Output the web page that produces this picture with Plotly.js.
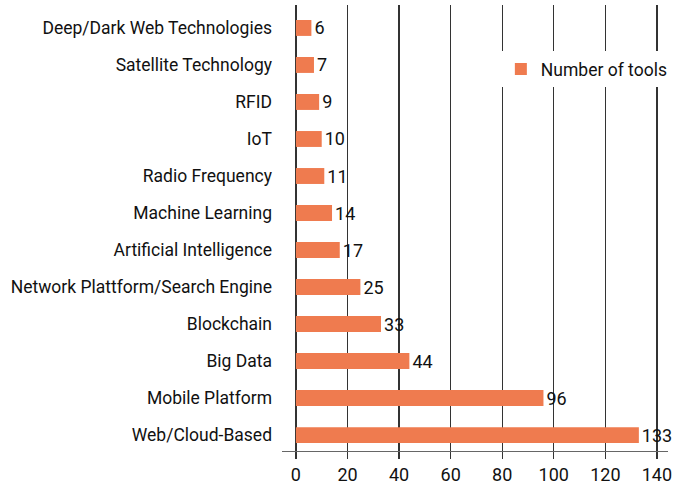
<!DOCTYPE html>
<html><head><meta charset="utf-8">
<script src="https://cdn.plot.ly/plotly-3.0.1.min.js"></script>
<style>body{margin:0;background:#fff}#c{width:686px;height:484px}</style>
</head><body><div id="c"></div>
<script>
const categories = ["Web/Cloud-Based","Mobile Platform","Big Data","Blockchain","Network Plattform/Search Engine","Artificial Intelligence","Machine Learning","Radio Frequency","IoT","RFID","Satellite Technology","Deep/Dark Web Technologies"];
const toolCounts = [133,96,44,33,25,17,14,11,10,9,7,6];
const seriesName = "Number of tools";
const xTicks = [0,20,40,60,80,100,120,140];

const FONT = "Roboto, 'DejaVu Sans Condensed', sans-serif";
const trace = {
  type: "bar", orientation: "h",
  y: categories, x: toolCounts, name: seriesName,
  marker: {color: "#EF7B4F"},
  text: toolCounts.map(String), textposition: "outside",
  constraintext: "none",
  textfont: {family: FONT, size: 18, color: "#111"},
  cliponaxis: false, showlegend: true
};
const layout = {
  width: 686, height: 484,
  margin: {l: 282, r: 18, t: 5, b: 33},
  paper_bgcolor: "#fff", plot_bgcolor: "#fff",
  font: {family: FONT, size: 17, color: "#111"},
  bargap: 0.57,
  xaxis: {
    range: [-5.4, 144.3], tickvals: xTicks, ticktext: xTicks.map(String),
    showgrid: true, gridcolor: "#333", gridwidth: 1.3,
    zeroline: false, showline: true, linecolor: "#666", linewidth: 1.3,
    ticks: "outside", ticklen: 7, tickcolor: "#333", tickwidth: 1.3,
    tickfont: {family: FONT, size: 18, color: "#111"}, fixedrange: true
  },
  yaxis: {
    type: "category", range: [-0.43, 11.62],
    showgrid: false, zeroline: false, showline: false, ticks: "",
    ticklabelstandoff: 9,
    tickfont: {family: FONT, size: 17.5, color: "#111"}
  },
  legend: {x: 0.567, y: 0.856, xanchor: "left", yanchor: "middle",
    bgcolor: "#fff", font: {family: FONT, size: 17.5, color: "#111"}, itemwidth: 30},
  showlegend: true
};
Plotly.newPlot("c", [trace], layout, {staticPlot: true});
</script></body></html>
